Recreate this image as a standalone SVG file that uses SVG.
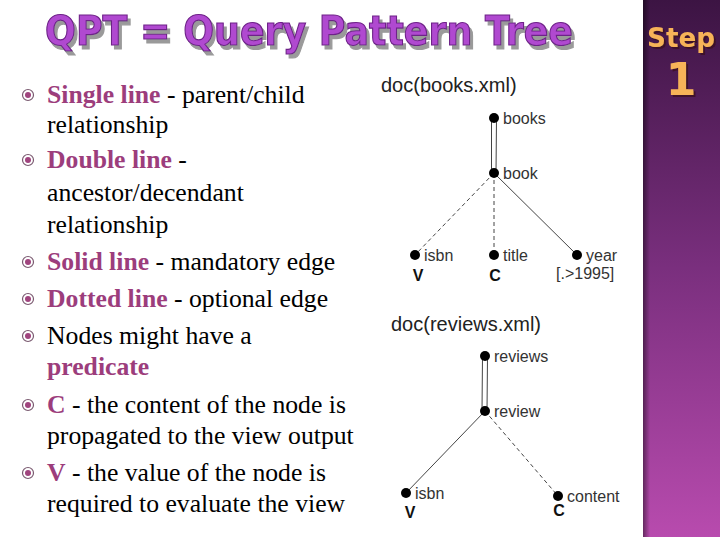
<svg xmlns="http://www.w3.org/2000/svg" width="720" height="540" viewBox="0 0 720 540">
<defs>
<linearGradient id="pg" x1="0" y1="0" x2="0" y2="1">
<stop offset="0" stop-color="#3c1443"/>
<stop offset="0.5" stop-color="#7a2f7e"/>
<stop offset="1" stop-color="#b84bae"/>
</linearGradient>
<linearGradient id="ps" x1="0" y1="0" x2="1" y2="0">
<stop offset="0" stop-color="#000" stop-opacity="0.45"/>
<stop offset="1" stop-color="#000" stop-opacity="0"/>
</linearGradient>
<filter id="tsh" x="-5%" y="-20%" width="110%" height="150%">
<feDropShadow dx="3" dy="4" stdDeviation="0" flood-color="#9a9a9a" flood-opacity="1"/>
</filter>
<filter id="ssh" x="-10%" y="-20%" width="120%" height="150%">
<feDropShadow dx="2" dy="2" stdDeviation="0.5" flood-color="#3a1020" flood-opacity="0.8"/>
</filter>
<g id="bul"><circle r="5.5" fill="none" stroke="#7a5a70" stroke-width="1.2"/><circle r="3" fill="#a0447e"/></g>
</defs>
<style>
.ttl{font-family:"DejaVu Sans",sans-serif;font-weight:bold;font-size:40px}
.b{font-family:"Liberation Serif",serif;font-size:25.7px;fill:#000}
.k{font-weight:bold;fill:#9c3d7c}
.doc{font-family:"Liberation Sans",Arial,sans-serif;font-size:20px;fill:#222}
.lb{font-family:"Liberation Sans",Arial,sans-serif;font-size:16px;fill:#333}
.cv{font-family:"Liberation Sans",Arial,sans-serif;font-size:16px;fill:#111;font-weight:bold}
.nd{fill:#000}
.e{stroke:#444;stroke-width:1;fill:none}
.d{stroke-dasharray:4 3}
.st{font-family:"DejaVu Sans",sans-serif;font-weight:bold;fill:#f7b358}
</style>
<rect width="720" height="540" fill="#fff"/>
<g id="panel">
<rect x="643" y="0" width="77" height="537" fill="url(#pg)"/>
<rect x="643" y="0" width="7" height="537" fill="url(#ps)"/>
<text class="st" x="647" y="47" font-size="27" textLength="68" lengthAdjust="spacingAndGlyphs" filter="url(#ssh)">Step</text>
<text class="st" x="681" y="95" font-size="44" text-anchor="middle" filter="url(#ssh)">1</text>
</g>
<g id="title">
<text class="ttl" x="45" y="45" fill="#b04ad0" stroke="#6e2288" stroke-width="1.2" textLength="528" lengthAdjust="spacingAndGlyphs" filter="url(#tsh)">QPT = Query Pattern Tree</text>
</g>
<g id="bullets">
<use href="#bul" x="28" y="95"/>
<text class="b" x="47" y="103"><tspan class="k">Single line</tspan> - parent/child</text>
<text class="b" x="47" y="133">relationship</text>
<use href="#bul" x="28" y="160"/>
<text class="b" x="47" y="168"><tspan class="k">Double line</tspan> -</text>
<text class="b" x="47" y="201">ancestor/decendant</text>
<text class="b" x="47" y="233">relationship</text>
<use href="#bul" x="28" y="262"/>
<text class="b" x="47" y="270"><tspan class="k">Solid line</tspan> - mandatory edge</text>
<use href="#bul" x="28" y="299"/>
<text class="b" x="47" y="307"><tspan class="k">Dotted line</tspan> - optional edge</text>
<use href="#bul" x="28" y="336"/>
<text class="b" x="47" y="344">Nodes might have a</text>
<text class="b" x="47" y="375"><tspan class="k">predicate</tspan></text>
<use href="#bul" x="28" y="405"/>
<text class="b" x="47" y="413"><tspan class="k">C</tspan> - the content of the node is</text>
<text class="b" x="47" y="444">propagated to the view output</text>
<use href="#bul" x="28" y="473"/>
<text class="b" x="47" y="481"><tspan class="k">V</tspan> - the value of the node is</text>
<text class="b" x="47" y="512">required to evaluate the view</text>
</g>
<g id="connectors">
<line class="e" x1="491.5" y1="118" x2="491.5" y2="173"/>
<line class="e" x1="496.5" y1="118" x2="496" y2="173"/>
<line class="e d" x1="494" y1="173" x2="415" y2="255"/>
<line class="e d" x1="494" y1="173" x2="494" y2="255"/>
<line class="e" x1="494" y1="173" x2="577" y2="255"/>
<line class="e" x1="482.5" y1="356" x2="482" y2="411"/>
<line class="e" x1="487.5" y1="356" x2="487" y2="411"/>
<line class="e" x1="485" y1="411" x2="406" y2="493"/>
<line class="e d" x1="485" y1="411" x2="558" y2="496"/>
</g>
<g id="tree-books">
<text class="doc" x="381" y="92">doc(books.xml)</text>
<g id="n-books"><circle class="nd" cx="494" cy="118" r="5"/><text class="lb" x="503" y="124">books</text></g>
<g id="n-book"><circle class="nd" cx="494" cy="173" r="5"/><text class="lb" x="503" y="179">book</text></g>
<g id="n-isbn1"><circle class="nd" cx="415" cy="255" r="5"/><text class="lb" x="424" y="261">isbn</text><text class="cv" x="418" y="281" text-anchor="middle">V</text></g>
<g id="n-title"><circle class="nd" cx="494" cy="255" r="5"/><text class="lb" x="503" y="261">title</text><text class="cv" x="495" y="281" text-anchor="middle">C</text></g>
<g id="n-year"><circle class="nd" cx="577" cy="255" r="5"/><text class="lb" x="586" y="261">year</text><text class="lb" x="556" y="279">[.&gt;1995]</text></g>
</g>
<g id="tree-reviews">
<text class="doc" x="391" y="331">doc(reviews.xml)</text>
<g id="n-reviews"><circle class="nd" cx="485" cy="356" r="5"/><text class="lb" x="494" y="362">reviews</text></g>
<g id="n-review"><circle class="nd" cx="485" cy="411" r="5"/><text class="lb" x="494" y="417">review</text></g>
<g id="n-isbn2"><circle class="nd" cx="406" cy="493" r="5"/><text class="lb" x="415" y="499">isbn</text><text class="cv" x="410" y="518" text-anchor="middle">V</text></g>
<g id="n-content"><circle class="nd" cx="558" cy="496" r="5"/><text class="lb" x="567" y="502">content</text><text class="cv" x="559" y="516" text-anchor="middle">C</text></g>
</g>
</svg>
